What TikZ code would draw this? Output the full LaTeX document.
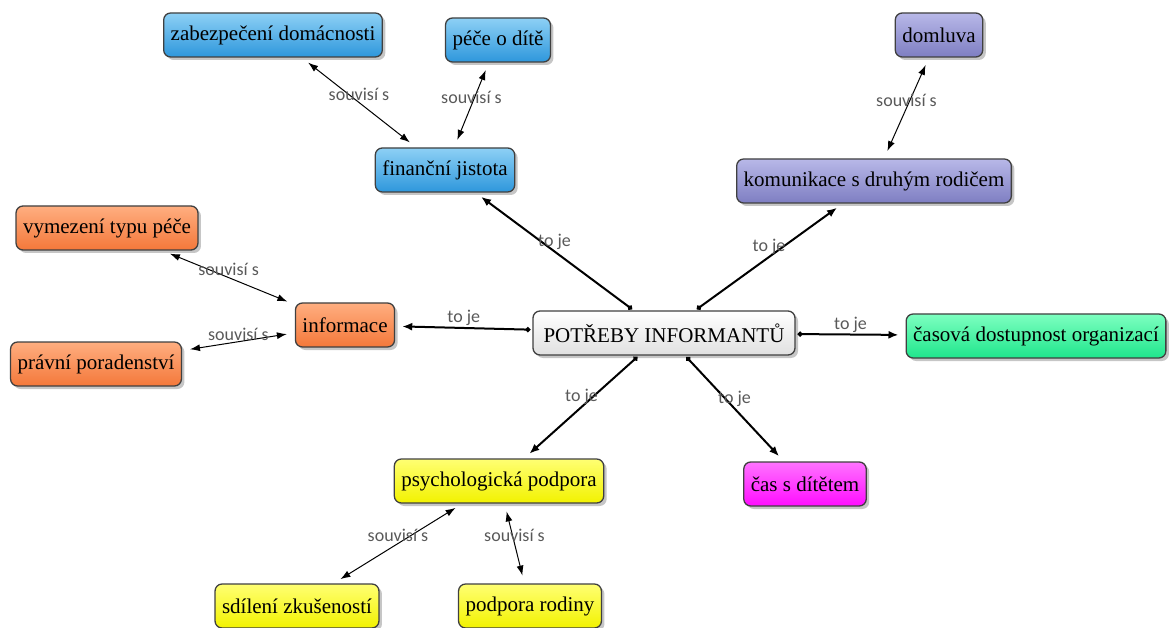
\documentclass[tikz,border=0pt]{standalone}
\usepackage{fontspec}
\setmainfont{Liberation Serif}
\newfontfamily\lblfont{Carlito}
\usepackage{tikz}
\usetikzlibrary{shapes, arrows.meta, positioning, shadows}
\definecolor{blueTop}{HTML}{8DD0F5}
\definecolor{blueBot}{HTML}{2E97DC}
\definecolor{purpTop}{HTML}{B8B8E8}
\definecolor{purpBot}{HTML}{7E7EC2}
\definecolor{orTop}{HTML}{FFAE80}
\definecolor{orBot}{HTML}{F4783A}
\definecolor{grTop}{HTML}{7DFFC0}
\definecolor{grBot}{HTML}{1FE68C}

\begin{document}
\begin{tikzpicture}
  [
    x=1pt, y=-1pt,
    Box/.style={rectangle, rounded corners=7pt, draw=black!75, line width=1.3pt,
      minimum height=44pt, inner xsep=7pt, font=\fontsize{21}{25}\selectfont,
      drop shadow={shadow xshift=3pt, shadow yshift=-3pt, opacity=0.45}},
    Blue/.style={Box, top color=blueTop, bottom color=blueBot},
    Purple/.style={Box, top color=purpTop, bottom color=purpBot},
    Orange/.style={Box, top color=orTop, bottom color=orBot},
    Green/.style={Box, top color=grTop, bottom color=grBot},
    Gray/.style={Box, top color=white, bottom color=black!12},
    Yellow/.style={Box, top color=yellow!55!white, bottom color=yellow!95!black},
    Pink/.style={Box, top color=magenta!55!white, bottom color=magenta!95},
    Isa/.style={line width=2pt, {Circle[length=5pt]}-{Latex[length=10pt,width=8pt]},
      shorten <=2pt, shorten >=7pt},
    Rel/.style={line width=1pt, {Latex[length=10pt,width=7pt]}-{Latex[length=10pt,width=7pt]},
      shorten <=8pt, shorten >=8pt},
    Lbl/.style={font=\lblfont\fontsize{18}{20}\selectfont, text=black!65, inner sep=1pt}
  ]
  \useasboundingbox (0,0) rectangle (1170,628);

  % Nodes
  \node[Gray, minimum width=262pt] (needs) at(664, 333) {POTŘEBY INFORMANTŮ};

  \node[Blue] (money) at(445, 170) {finanční jistota};
  \node[Blue] (home) at(273, 35) {zabezpečení domácnosti};
  \node[Blue] (care) at(498, 40) {péče o dítě};

  \node[Purple] (talk) at(874, 181) {komunikace s druhým rodičem};
  \node[Purple] (deal) at(939, 35) {domluva};

  \node[Orange] (info) at(345, 325) {informace};
  \node[Orange] (kind) at(107, 228) {vymezení typu péče};
  \node[Orange] (law) at(96, 364) {právní poradenství};

  \node[Green] (hours) at(1036, 336) {časová dostupnost organizací};

  \node[Yellow] (psych) at(499, 481) {psychologická podpora};
  \node[Yellow] (share) at(297, 606) {sdílení zkušeností};
  \node[Yellow] (family) at(530, 606) {podpora rodiny};

  \node[Pink] (time) at(805, 484) {čas s dítětem};

  % Lines
  \draw[Isa] (needs) -- (money) node[Lbl, midway, above] {to je};
  \draw[Isa] (needs) -- (talk) node[Lbl, midway, above] {to je};
  \draw[Isa] (needs) -- (info) node[Lbl, midway, above] {to je};
  \draw[Isa] (needs) -- (hours) node[Lbl, midway, above] {to je};
  \draw[Isa] (needs) -- (psych) node[Lbl, midway, above] {to je};
  \draw[Isa] (needs) -- (time) node[Lbl, midway, above] {to je};

  \draw[Rel] (home) -- (money) node[Lbl, midway, above] {souvisí s};
  \draw[Rel] (care) -- (money) node[Lbl, midway, above] {souvisí s};
  \draw[Rel] (deal) -- (talk) node[Lbl, midway, above] {souvisí s};
  \draw[Rel] (kind) -- (info) node[Lbl, midway, above] {souvisí s};
  \draw[Rel] (law) -- (info) node[Lbl, midway, above] {souvisí s};
  \draw[Rel] (share) -- (psych) node[Lbl, midway, above] {souvisí s};
  \draw[Rel] (family) -- (psych) node[Lbl, midway, above] {souvisí s};

\end{tikzpicture}
\end{document}
